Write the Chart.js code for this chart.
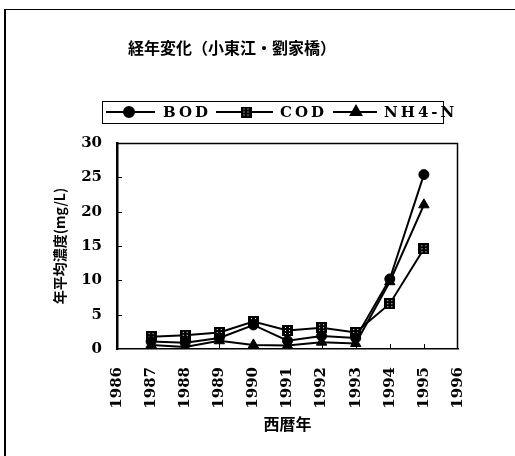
<!DOCTYPE html>
<html>
<head>
<meta charset="utf-8">
<script src="https://cdn.jsdelivr.net/npm/chart.js@4/dist/chart.umd.min.js"></script>
<style>
  html, body { margin: 0; padding: 0; background: #fff; }
  #c { display: block; }
</style>
</head>
<body>
<canvas id="c" width="515" height="456"></canvas>
<script>
// Annual mean concentrations at 劉家橋 on 小東江
const chartTitle = '経年変化（小東江・劉家橋）';
const yAxisTitle = '年平均濃度(mg/L)';
const xAxisTitle = '西暦年';
const seriesLabels = ['BOD', 'COD', 'NH4-N'];
const years = [1987, 1988, 1989, 1990, 1991, 1992, 1993, 1994, 1995];
const bod   = [1.1, 0.9, 1.6, 3.5, 1.2, 1.9, 1.6, 10.2, 25.4];
const cod   = [1.8, 2.0, 2.4, 4.0, 2.7, 3.1, 2.4, 6.6, 14.6];
const nh4n  = [0.6, 0.3, 1.2, 0.6, 0.5, 1.0, 0.8, 9.8, 21.0];
const xRange = [1986, 1996];
const yRange = [0, 30];
const yStep = 5;

const SERIF = '"DejaVu Serif", "Liberation Serif", serif';
const CJK = '"Noto Sans CJK JP", "Noto Sans CJK SC", sans-serif';

// hatched square marker used for COD
function hatchedSquare(size) {
  const c = document.createElement('canvas');
  c.width = size; c.height = size;
  const g = c.getContext('2d');
  g.fillStyle = '#000';
  g.fillRect(0, 0, size, size);
  g.fillStyle = '#fff';
  for (let y = 2; y < size - 1; y += 3) {
    g.fillRect(3, y, 1, 1);
    g.fillRect(size - 4, y, 1, 1);
  }
  return c;
}
const squareMarker = hatchedSquare(11);

const toPoints = vals => years.map((yr, i) => ({ x: yr, y: vals[i] }));

const seriesStyles = [
  { pointStyle: 'circle', pointRadius: 5 },
  { pointStyle: squareMarker, pointRadius: 5 },
  { pointStyle: 'triangle', pointRadius: 6 }
];
const seriesValues = [bod, cod, nh4n];

// title, boxed legend, outer frame, plot border and inward tick marks
const decorations = {
  id: 'decorations',
  afterDraw(chart) {
    const ctx = chart.ctx;
    const area = chart.chartArea;
    const xs = chart.scales.x, ys = chart.scales.y;
    ctx.save();

    // outer frame (left and top edges)
    ctx.strokeStyle = '#000';
    ctx.lineWidth = 2;
    ctx.beginPath();
    ctx.moveTo(5, 456); ctx.lineTo(5, 9); ctx.stroke();
    ctx.lineWidth = 1;
    ctx.beginPath();
    ctx.moveTo(5, 9.5); ctx.lineTo(515, 9.5); ctx.stroke();

    // title
    ctx.fillStyle = '#000';
    ctx.font = 'bold 16px ' + CJK;
    ctx.textAlign = 'center';
    ctx.textBaseline = 'middle';
    ctx.fillText(chartTitle, 232, 48);

    // plot border: top and right
    ctx.lineWidth = 1.5;
    ctx.beginPath();
    ctx.moveTo(area.left, area.top + 0.5);
    ctx.lineTo(area.right - 0.5, area.top + 0.5);
    ctx.lineTo(area.right - 0.5, area.bottom);
    ctx.stroke();

    // inward tick marks
    ctx.lineWidth = 1;
    for (let v = yRange[0] + yStep; v < yRange[1]; v += yStep) {
      const py = Math.round(ys.getPixelForValue(v)) + 0.5;
      ctx.beginPath(); ctx.moveTo(area.left, py); ctx.lineTo(area.left + 5, py); ctx.stroke();
    }
    for (let v = xRange[0] + 1; v < xRange[1]; v++) {
      const px = Math.round(xs.getPixelForValue(v)) + 0.5;
      ctx.beginPath(); ctx.moveTo(px, area.bottom); ctx.lineTo(px, area.bottom - 5); ctx.stroke();
    }

    // legend box
    const lg = { left: 102, top: 101, right: 443, bottom: 123 };
    const cy = (lg.top + lg.bottom) / 2;
    ctx.lineWidth = 1;
    ctx.strokeRect(lg.left + 0.5, lg.top + 0.5, lg.right - lg.left, lg.bottom - lg.top);
    const items = [
      { x0: 106, x1: 155, mx: 129, tx: 163 },
      { x0: 216, x1: 273, mx: 246, tx: 280 },
      { x0: 333, x1: 377, mx: 356, tx: 384 }
    ];
    ctx.font = 'bold 15px ' + SERIF;
    ctx.textAlign = 'left';
    if ('letterSpacing' in ctx) ctx.letterSpacing = '3px';
    items.forEach((it, i) => {
      const ds = chart.data.datasets[i];
      ctx.lineWidth = 2;
      ctx.beginPath(); ctx.moveTo(it.x0, cy); ctx.lineTo(it.x1, cy); ctx.stroke();
      Chart.helpers.drawPoint(ctx, {
        pointStyle: ds.pointStyle, radius: ds.pointRadius, rotation: 0, borderWidth: 1
      }, it.mx, cy);
      ctx.fillStyle = '#000';
      ctx.fillText(ds.label, it.tx, cy + 1);
    });
    ctx.restore();
  }
};

// draw the COD marker image as-is
Chart.defaults.font.family = SERIF;

new Chart(document.getElementById('c'), {
  type: 'line',
  data: {
    datasets: seriesLabels.map((lab, i) => ({
      label: lab,
      data: toPoints(seriesValues[i]),
      borderColor: '#000',
      backgroundColor: '#000',
      borderWidth: 2,
      pointStyle: seriesStyles[i].pointStyle,
      pointRadius: seriesStyles[i].pointRadius,
      pointBackgroundColor: '#000',
      pointBorderColor: '#000',
      pointBorderWidth: 1,
      tension: 0,
      fill: false
    }))
  },
  options: {
    responsive: false,
    animation: false,
    devicePixelRatio: 1,
    layout: { padding: { left: 0, top: 143, right: 57, bottom: 0 } },
    plugins: {
      legend: { display: false },
      title: { display: false },
      tooltip: { enabled: false }
    },
    scales: {
      x: {
        type: 'linear',
        min: xRange[0], max: xRange[1],
        afterFit(s) { s.height = 107; },
        grid: { display: false, drawTicks: false },
        border: { display: true, color: '#000', width: 1.5 },
        ticks: {
          stepSize: 1,
          autoSkip: false,
          minRotation: 90, maxRotation: 90,
          padding: 18,
          color: '#000',
          font: { family: SERIF, size: 15, weight: 'bold' },
          callback: v => String(v)
        },
        title: {
          display: true,
          text: xAxisTitle,
          color: '#000',
          font: { family: CJK, size: 16, weight: 'bold' },
          padding: { top: 0, bottom: 22 }
        }
      },
      y: {
        min: yRange[0], max: yRange[1],
        afterFit(s) { s.width = 117; },
        grid: { display: false, drawTicks: false },
        border: { display: true, color: '#000', width: 2.5 },
        ticks: {
          stepSize: yStep,
          padding: 15,
          color: '#000',
          font: { family: SERIF, size: 15, weight: 'bold' }
        },
        title: {
          display: true,
          text: yAxisTitle,
          color: '#000',
          font: { family: CJK, size: 14, weight: 'bold' },
          padding: { top: 51, bottom: 0 }
        }
      }
    }
  },
  plugins: [decorations]
});
</script>
</body>
</html>
